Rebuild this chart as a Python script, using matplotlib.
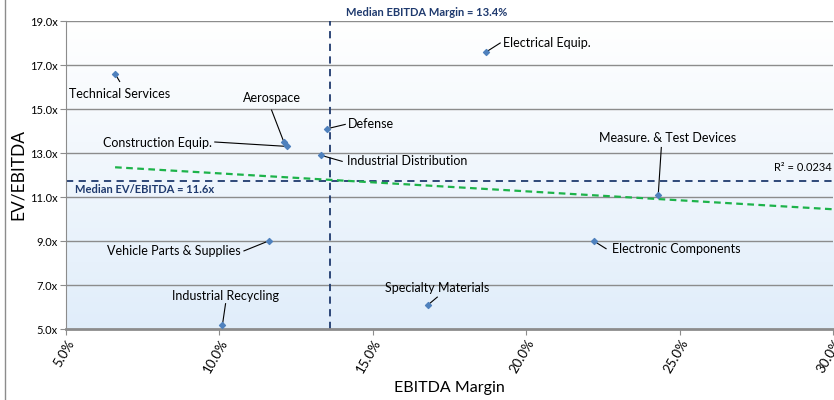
import matplotlib.pyplot as plt
import numpy as np
from matplotlib.lines import Line2D

plt.rcParams["font.family"] = ["Lato", "DejaVu Sans"]

sectors = [
    "Technical Services", "Electrical Equip.", "Aerospace", "Construction Equip.",
    "Defense", "Industrial Distribution", "Measure. & Test Devices",
    "Vehicle Parts & Supplies", "Electronic Components", "Specialty Materials",
    "Industrial Recycling",
]
ebitda_margin = [6.6, 18.7, 12.1, 12.2, 13.5, 13.3, 24.3, 11.6, 22.2, 16.8, 10.1]
ev_ebitda = [16.6, 17.6, 13.5, 13.3, 14.1, 12.9, 11.1, 9.0, 9.0, 6.1, 5.2]

median_margin = 13.6   # where the line sits in the picture
median_multiple = 11.73
margin_label = "Median EBITDA Margin = 13.4%"
multiple_label = "Median EV/EBITDA = 11.6x"
r2_label = "R² = 0.0234"
# trend line (Excel linear trendline)
trend_slope = -0.0816
trend_intercept = 12.89

x_ticks = [5, 10, 15, 20, 25, 30]
y_ticks = [5, 7, 9, 11, 13, 15, 17, 19]

# label placement: (text x, text y, ha, va, leader end x, leader end y) in data units
label_pos = {
    "Technical Services": (6.75, 15.7, "center", "center", 6.75, 16.25),
    "Electrical Equip.": (19.25, 18.0, "left", "center", 19.15, 18.0),
    "Aerospace": (11.7, 15.5, "center", "center", 11.7, 14.95),
    "Construction Equip.": (9.75, 13.45, "right", "center", 9.85, 13.5),
    "Defense": (14.2, 14.3, "left", "center", 14.1, 14.3),
    "Industrial Distribution": (14.15, 12.62, "left", "center", 14.0, 12.62),
    "Measure. & Test Devices": (24.6, 13.7, "center", "center", 24.4, 13.25),
    "Vehicle Parts & Supplies": (10.7, 8.55, "right", "center", 10.8, 8.55),
    "Electronic Components": (22.8, 8.65, "left", "center", 22.6, 8.65),
    "Specialty Materials": (17.1, 6.85, "center", "center", 17.1, 6.45),
    "Industrial Recycling": (10.2, 6.5, "center", "center", 10.2, 6.15),
}

fig = plt.figure(figsize=(8.34, 4.0), dpi=100)
ax = fig.add_axes([0.0791, 0.1775, 0.9199, 0.77])
ax.set_xlim(5, 30)
ax.set_ylim(5, 19)

# gradient background
grad = np.linspace(0, 1, 256).reshape(-1, 1)
top = np.array([1.0, 1.0, 1.0])
bottom = np.array([0.88, 0.93, 0.98])
img = top + (bottom - top) * grad[:, :, None] * np.ones((1, 1, 3))
ax.imshow(img, extent=[0, 1, 0, 1], transform=ax.transAxes, aspect="auto", zorder=0)

for y in y_ticks[1:]:
    ax.axhline(y, color="#8c8c8c", lw=1, zorder=1)

for s in ["top", "right"]:
    ax.spines[s].set_visible(False)
ax.spines["left"].set_color("#8c8c8c")
ax.spines["bottom"].set_color("#8c8c8c")
ax.spines["bottom"].set_linewidth(2)

ax.set_xticks(x_ticks)
ax.set_xticklabels([f"{v:.1f}%" for v in x_ticks], rotation=60, ha="right",
                   rotation_mode="anchor", fontsize=9.5)
ax.set_yticks(y_ticks)
ax.set_yticklabels([f"{v:.1f}x" for v in y_ticks], fontsize=8)
ax.tick_params(axis="both", color="#8c8c8c", length=4, pad=2)
ax.set_xlabel("EBITDA Margin", fontsize=11.5, labelpad=4)
ax.set_ylabel("EV/EBITDA", fontsize=12.5, labelpad=3)

navy = "#1f3a6e"
ax.axvline(median_margin, color=navy, lw=1.3, ls=(0, (4, 3)), zorder=2)
ax.axhline(median_multiple, color=navy, lw=1.3, ls=(0, (4, 3)), zorder=2)
ax.text(0.47, 1.01, margin_label, transform=ax.transAxes, ha="center", va="bottom",
        color=navy, fontsize=8, fontweight="bold")
ax.text(5.3, median_multiple - 0.12, multiple_label, ha="left", va="top",
        color=navy, fontsize=8, fontweight="bold")

tx = np.array([min(ebitda_margin), 30])
ax.plot(tx, trend_intercept + trend_slope * tx, color="#1db34a", lw=1.6,
        ls=(0, (3, 2)), zorder=3)
ax.text(29.95, 12.35, r2_label, ha="right", va="center", fontsize=8)

ax.scatter(ebitda_margin, ev_ebitda, marker="D", s=9, color="#4f81bd", zorder=5)

for name, x, y in zip(sectors, ebitda_margin, ev_ebitda):
    tx_, ty_, ha, va, lx, ly = label_pos[name]
    ax.plot([x, lx], [y, ly], color="black", lw=0.8, zorder=4)
    ax.text(tx_, ty_, name, ha=ha, va=va, fontsize=9, zorder=6)

fig.add_artist(Line2D([0.006, 0.006], [0, 1], transform=fig.transFigure,
                      color="#8c8c8c", lw=1))

plt.savefig("out.png", dpi=100)
